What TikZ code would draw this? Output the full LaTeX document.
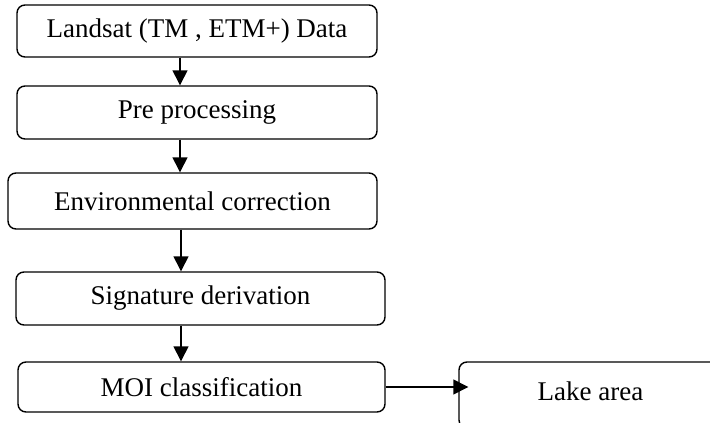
\documentclass[tikz,border=0pt]{standalone}
\usepackage{fontspec}
\setmainfont{Liberation Serif}
\usetikzlibrary{arrows.meta}
\begin{document}
\begin{tikzpicture}[x=1pt,y=-1pt,
  stepbox/.style={draw=black, line width=1.4pt, rounded corners=8pt, inner sep=0pt,
    font=\fontsize{27}{31}\selectfont, anchor=center},
  arr/.style={line width=1.4pt, -{Triangle[length=15pt,width=15pt]}}]
\useasboundingbox (0,0) rectangle (710,423);
\clip (0,0) rectangle (710,423);
\node[stepbox, minimum width=360pt, minimum height=52pt] (b1) at (197,31) {Landsat (TM , ETM+) Data};
\node[stepbox, minimum width=360pt, minimum height=53pt] (b2) at (197,112.5) {Pre processing};
\node[stepbox, minimum width=369pt, minimum height=56pt] (b3) at (192.5,201) {Environmental correction};
\node[stepbox, minimum width=369pt, minimum height=53pt] (b4) at (200.5,298.5) {Signature derivation};
\node[stepbox, minimum width=367pt, minimum height=50pt] (b5) at (201.5,387) {MOI classification};
\node[stepbox, minimum width=263pt, minimum height=66pt] (lake) at (590.5,395) {\raisebox{7pt}{Lake area}};
\coordinate (xa) at (180,0);
\coordinate (xb) at (181,0);
\draw[arr] (b1.south -| xa) -- (b2.north -| xa);
\draw[arr] (b2.south -| xa) -- (b3.north -| xa);
\draw[arr] (b3.south -| xb) -- (b4.north -| xb);
\draw[arr] (b4.south -| xb) -- (b5.north -| xb);
\draw[arr, shorten >=-10pt] (b5.east) -- (b5.east -| lake.west);
\end{tikzpicture}
\end{document}
